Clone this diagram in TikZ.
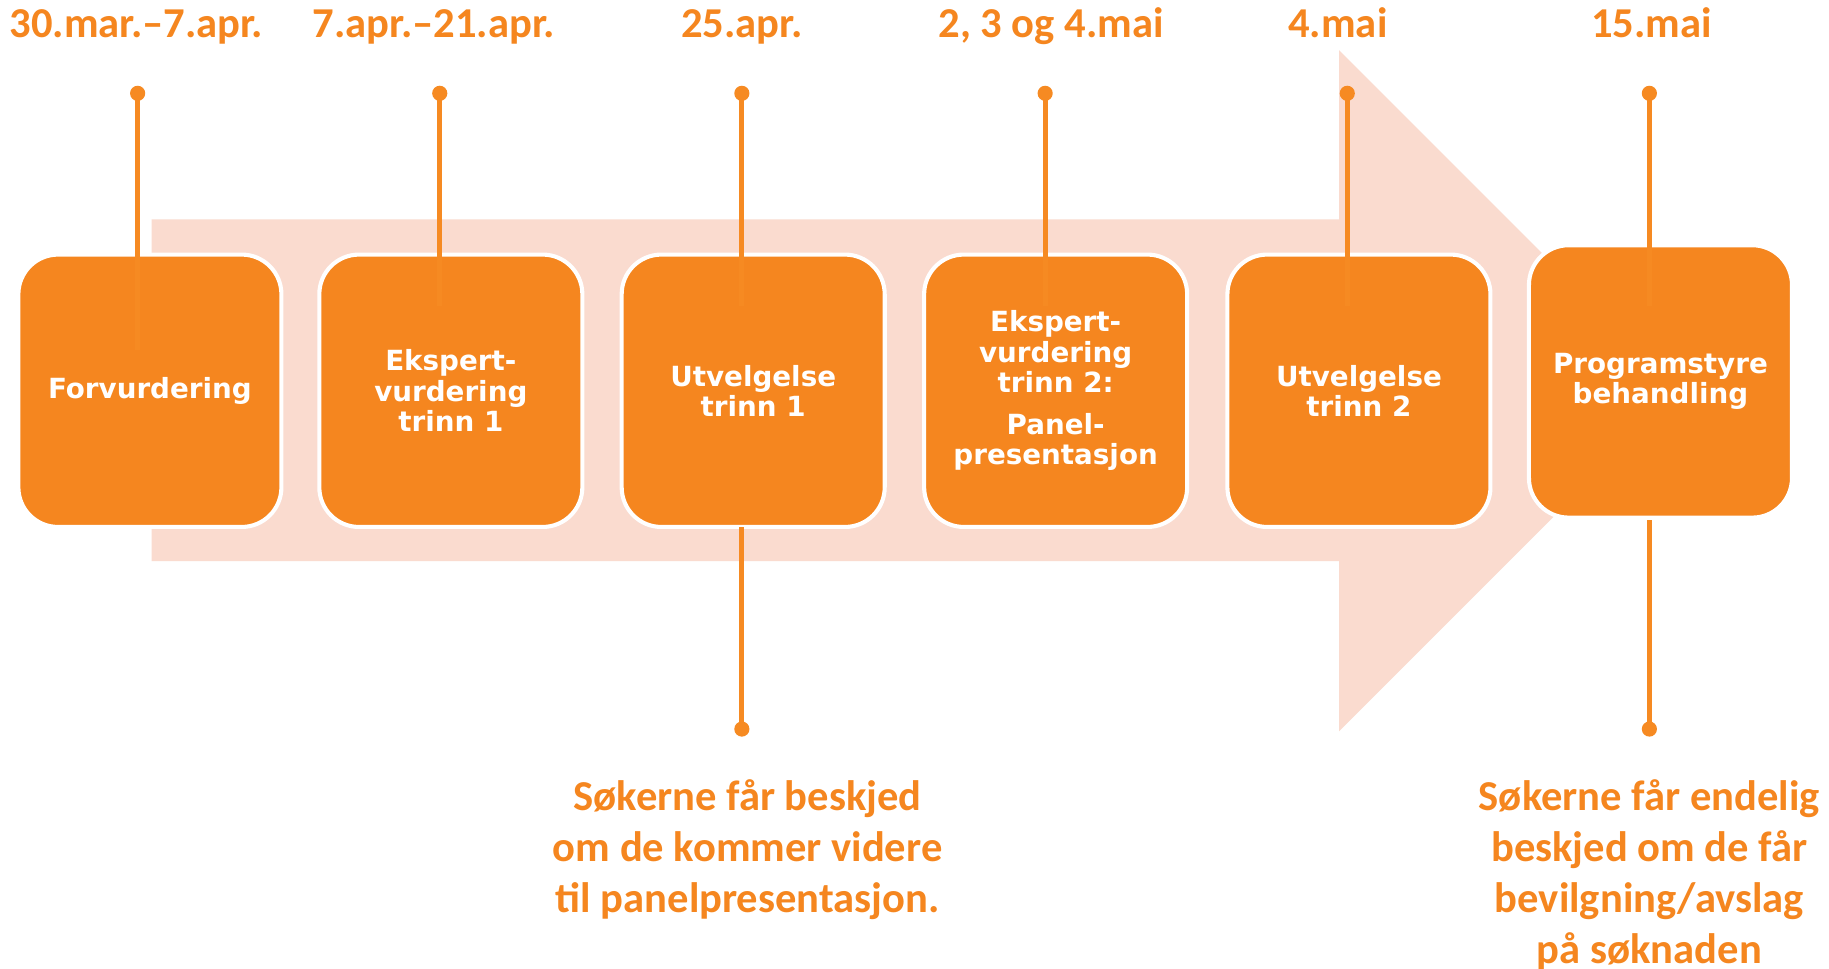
\documentclass[tikz,border=0pt]{standalone}
\usepackage{fontspec}
\newfontfamily\boxfont{DejaVu Sans}
\newfontfamily\datefont{Carlito}
\definecolor{orng}{HTML}{F5861F}
\definecolor{lineor}{HTML}{F68A22}
\definecolor{pinkbg}{HTML}{FADBCF}
\begin{document}
\begin{tikzpicture}[x=1pt,y=-1pt,
  stepbox/.style={fill=orng, draw=white, line width=3.5pt, rounded corners=34pt,
    minimum width=225.5pt, minimum height=233.5pt, inner sep=0pt, align=center,
    text=white, font=\boxfont\bfseries\fontsize{23.8}{26}\selectfont},
  datelbl/.style={text=orng, font=\datefont\bfseries\fontsize{36.5}{43.8}\selectfont,
    align=center, inner sep=0pt},
  dotmark/.style={circle, fill=lineor, inner sep=0pt, minimum size=13pt},
  conn/.style={draw=lineor, line width=4.5pt}]
\useasboundingbox (0,0) rectangle (1568,830);
\fill[white] (0,0) rectangle (1568,830);
% big background arrow
\fill[pinkbg] (130,188) -- (1148,188) -- (1148,43) -- (1440,335) -- (1148,627)
  -- (1148,481) -- (130,481) -- cycle;
% boxes
\node[stepbox] (b1) at (128.5,335) {Forvurdering};
\node[stepbox] (b2) at (386.5,335) {Ekspert-\\vurdering\\trinn 1};
\node[stepbox] (b3) at (645.7,335) {Utvelgelse\\trinn 1};
\node[stepbox] (b4) at (905,335) {Ekspert-\\vurdering\\trinn 2:\\[10pt]Panel-\\presentasjon};
\node[stepbox] (b5) at (1165,335) {Utvelgelse\\trinn 2};
\node[stepbox] (b6) at (1423.5,327) {Programstyre\\behandling};
% dots top
\node[dotmark] (t1) at (118,80) {};
\node[dotmark] (t2) at (377,80) {};
\node[dotmark] (t3) at (636,80) {};
\node[dotmark] (t4) at (896,80) {};
\node[dotmark] (t5) at (1155,80) {};
\node[dotmark] (t6) at (1414,80) {};
\coordinate (e1) at (118,300);
\coordinate (e2) at (377,262);
\coordinate (e3) at (636,262);
\coordinate (e4) at (896,262);
\coordinate (e5) at (1155,262);
\coordinate (e6) at (1414,262);
\foreach \i in {1,...,6} { \draw[conn] (t\i.center) -- (e\i); }
% bottom connectors
\node[dotmark] (u3) at (636,625) {};
\node[dotmark] (u6) at (1414,625) {};
\coordinate (s3) at (636,452);
\coordinate (s6) at (1414,446);
\draw[conn] (s3) -- (u3.center);
\draw[conn] (s6) -- (u6.center);
% dates
\node[datelbl, anchor=base] (d1) at (117,32) {30.mar.–7.apr.};
\node[datelbl, anchor=base] (d2) at (372,32) {7.apr.–21.apr.};
\node[datelbl, anchor=base] (d3) at (636,32) {25.apr.};
\node[datelbl, anchor=base] (d4) at (901,32) {2, 3 og 4.mai};
\node[datelbl, anchor=base] (d5) at (1147,32) {4.mai};
\node[datelbl, anchor=base] (d6) at (1416,32) {15.mai};
% bottom notes (base anchor = last line)
\node[datelbl, anchor=base] (n3) at (641,782.6) {Søkerne får beskjed\\om de kommer videre\\til panelpresentasjon.};
\node[datelbl, anchor=base] (n6) at (1414,826.4) {Søkerne får endelig\\beskjed om de får\\bevilgning/avslag\\på søknaden};
\end{tikzpicture}
\end{document}
